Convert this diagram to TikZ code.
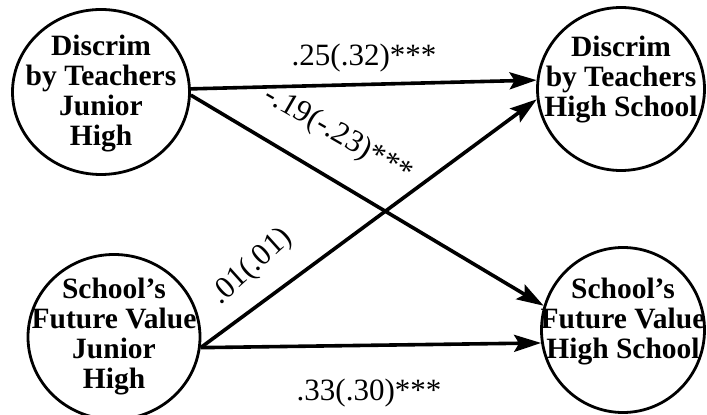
\documentclass[tikz,border=0pt]{standalone}
\usepackage{fontspec}
\setmainfont{Liberation Serif}
\usetikzlibrary{shapes.geometric}
\usetikzlibrary{arrows.meta}

\begin{document}
\begin{tikzpicture}[x=1pt,y=1pt,
  var/.style={ellipse,draw,line width=2.8pt,inner sep=0pt},
  vtext/.style={align=center,inner sep=0pt,font=\fontsize{29.5}{30}\selectfont\bfseries},
  path/.style={line width=3.6pt,-{Stealth[length=27pt,width=17pt,inset=5pt]}},
  coef/.style={inner sep=0pt,font=\fontsize{31}{34}\selectfont}]
\useasboundingbox (0,0) rectangle (707,415);

\node[var,minimum width=177pt,minimum height=165pt,
  label={[vtext,yshift=-2pt]center:{Discrim\\by Teachers\\Junior\\High}}] (dtjh) at (101,323) {};
\node[var,minimum width=167pt,minimum height=163pt,
  label={[vtext,yshift=9pt]center:{Discrim\\by Teachers\\High School}}] (dths) at (621,326) {};
\node[var,minimum width=172pt,minimum height=165pt,
  label={[vtext]center:{School's\\Future Value\\Junior\\High}}] (sfjh) at (114,78) {};
\node[var,minimum width=163pt,minimum height=165pt,
  label={[vtext,yshift=8pt]center:{School's\\Future Value\\High School}}] (sfhs) at (623,85) {};

\draw[path] (dtjh.2) -- (dths.174);
\draw[path] (dtjh.-2) -- (sfhs.163);
\draw[path] (sfjh.-7) -- (dths.187);
\draw[path] (sfjh.-7) -- (sfhs.189);

\node[coef] (b1) at (364,357) {.25(.32)***};
\node[coef,rotate=-30] (b2) at (338,280) {-.19(-.23)***};
\node[coef,rotate=42] (b3) at (252,148) {.01(.01)};
\node[coef] (b4) at (369,22) {.33(.30)***};
\end{tikzpicture}
\end{document}
